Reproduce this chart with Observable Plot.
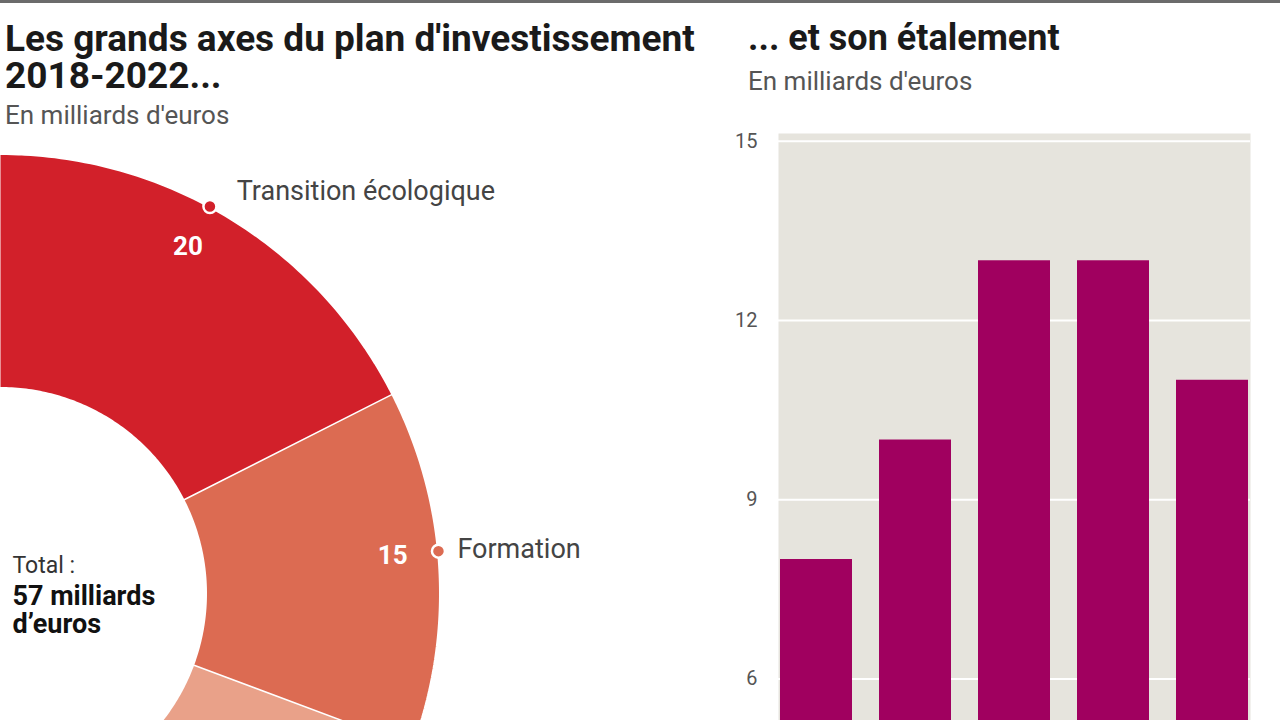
<!DOCTYPE html>
<html>
<head>
<meta charset="utf-8">
<script src="https://cdn.jsdelivr.net/npm/d3@7"></script>
<script src="https://cdn.jsdelivr.net/npm/@observablehq/plot@0.6"></script>
<style>
  html, body { margin: 0; padding: 0; overflow: hidden; background: #fff; }
  body { width: 1280px; height: 720px; position: relative; font-family: Roboto, "Noto Sans", sans-serif; }
  .topline { position: absolute; left: 0; top: 0; width: 1280px; height: 3px; background: #6b6b6b; z-index: 3; }
  .title { position: absolute; font-weight: 700; font-size: 36px; line-height: 37px; color: #1a1a1a; z-index: 3; white-space: nowrap; }
  .subtitle { position: absolute; font-size: 26px; line-height: 30px; color: #555; z-index: 3; white-space: nowrap; }
  #donut { position: absolute; left: 0; top: 0; z-index: 1; }
  #bars { position: absolute; left: 700px; top: 100px; z-index: 1; }
</style>
</head>
<body>
<div class="topline"></div>
<div class="title" style="left:5px; top:20px; font-size:37px; line-height:37px;">Les grands axes du plan d'investissement<br>2018-2022...</div>
<div class="subtitle" style="left:5px; top:100px;">En milliards d'euros</div>
<div class="title" style="left:748px; top:20px;">... et son étalement</div>
<div class="subtitle" style="left:748px; top:66px;">En milliards d'euros</div>
<div id="donut"></div>
<div id="bars"></div>
<script>
// ---- Data ----
const categories = ["Transition écologique", "Formation", "Innovation et compétitivité", "État numérique"];
const amounts = [20, 15, 13, 9];
const sliceColors = ["#d2202a", "#dc6b52", "#e9a189", "#f3c8b6"];

const years = ["2018", "2019", "2020", "2021", "2022"];
const spending = [8, 10, 13, 13, 11];
const yTicks = [0, 3, 6, 9, 12, 15];

// ---- Donut (half ring, total = 180°) ----
const total = d3.sum(amounts);
const R = 440, CY = 593, DW = 700, DH = 1100;
const innerRatio = 205 / R;
let cum = 0;
const slices = categories.map((name, i) => {
  const a0 = cum / total * Math.PI;
  cum += amounts[i];
  const a1 = cum / total * Math.PI;
  return {name, value: amounts[i], a0, a1, am: a0 + 0.45 * (a1 - a0)};
});
const ringPoints = [];
for (const s of slices) {
  const n = 80;
  for (let k = 0; k <= n; k++) {
    const a = s.a0 + (s.a1 - s.a0) * k / n;
    ringPoints.push({name: s.name, x: Math.sin(a), y: Math.cos(a)});
  }
  for (let k = n; k >= 0; k--) {
    const a = s.a0 + (s.a1 - s.a0) * k / n;
    ringPoints.push({name: s.name, x: innerRatio * Math.sin(a), y: innerRatio * Math.cos(a)});
  }
}
const valueRadius = 1 - 46 / R;
// label offset from the dot (in px), depending on the dot's angle
const labelX = d => Math.sin(d.am) + (18 + 10 * Math.cos(d.am)) / R;
const labelY = d => Math.cos(d.am) + (17 * Math.cos(d.am)) / R;

const donut = Plot.plot({
  width: DW, height: DH,
  marginLeft: 0, marginRight: 0, marginTop: 0, marginBottom: 0,
  x: {domain: [0, DW / R], axis: null},
  y: {domain: [-(DH - CY) / R, CY / R], axis: null},
  color: {domain: categories, range: sliceColors},
  style: {background: "transparent", fontFamily: "Roboto, sans-serif"},
  marks: [
    Plot.line(ringPoints, {x: "x", y: "y", z: "name", fill: "name", stroke: "white", strokeWidth: 3, strokeLinejoin: "miter"}),
    Plot.text(slices, {x: d => valueRadius * Math.sin(d.am), y: d => valueRadius * Math.cos(d.am), text: d => String(d.value), fill: "white", fontWeight: "bold", fontSize: 26}),
    Plot.dot(slices, {x: d => Math.sin(d.am), y: d => Math.cos(d.am), fill: "name", stroke: "white", strokeWidth: 2.5, r: 6.5}),
    Plot.text(slices, {x: labelX, y: labelY, text: "name", textAnchor: "start", fontSize: 27, fill: "#444"}),
    Plot.text(["Total :"], {x: () => 0, y: () => 0, text: d => d, textAnchor: "start", dx: 12, dy: -28, fontSize: 23, fill: "#333"}),
    Plot.text([`${total} milliards\nd’euros`], {x: () => 0, y: () => 0, text: d => d, textAnchor: "start", lineAnchor: "top", lineHeight: 1.05, dx: 12, dy: -9, fontSize: 27, fontWeight: "bold", fill: "#111"})
  ]
});
document.getElementById("donut").append(donut);

// ---- Bars ----
const barData = years.map((year, i) => ({year, value: spending[i]}));
const bars = Plot.plot({
  width: 580, height: 977,
  marginLeft: 78, marginRight: 30, marginTop: 33, marginBottom: 40,
  x: {domain: years, paddingInner: 0.27, paddingOuter: 0, label: null, tickSize: 0, tickPadding: 12},
  y: {domain: [0, 15.13], ticks: yTicks, tickSize: 0, tickPadding: 21, label: null},
  style: {background: "transparent", fontFamily: "Roboto, sans-serif", fontSize: "20px", color: "#555"},
  marks: [
    Plot.frame({fill: "#e6e4dd", stroke: null}),
    Plot.ruleY(yTicks, {stroke: "white", strokeWidth: 2}),
    Plot.barY(barData, {x: "year", y: "value", fill: "#a0005f"})
  ]
});
document.getElementById("bars").append(bars);
</script>
</body>
</html>
